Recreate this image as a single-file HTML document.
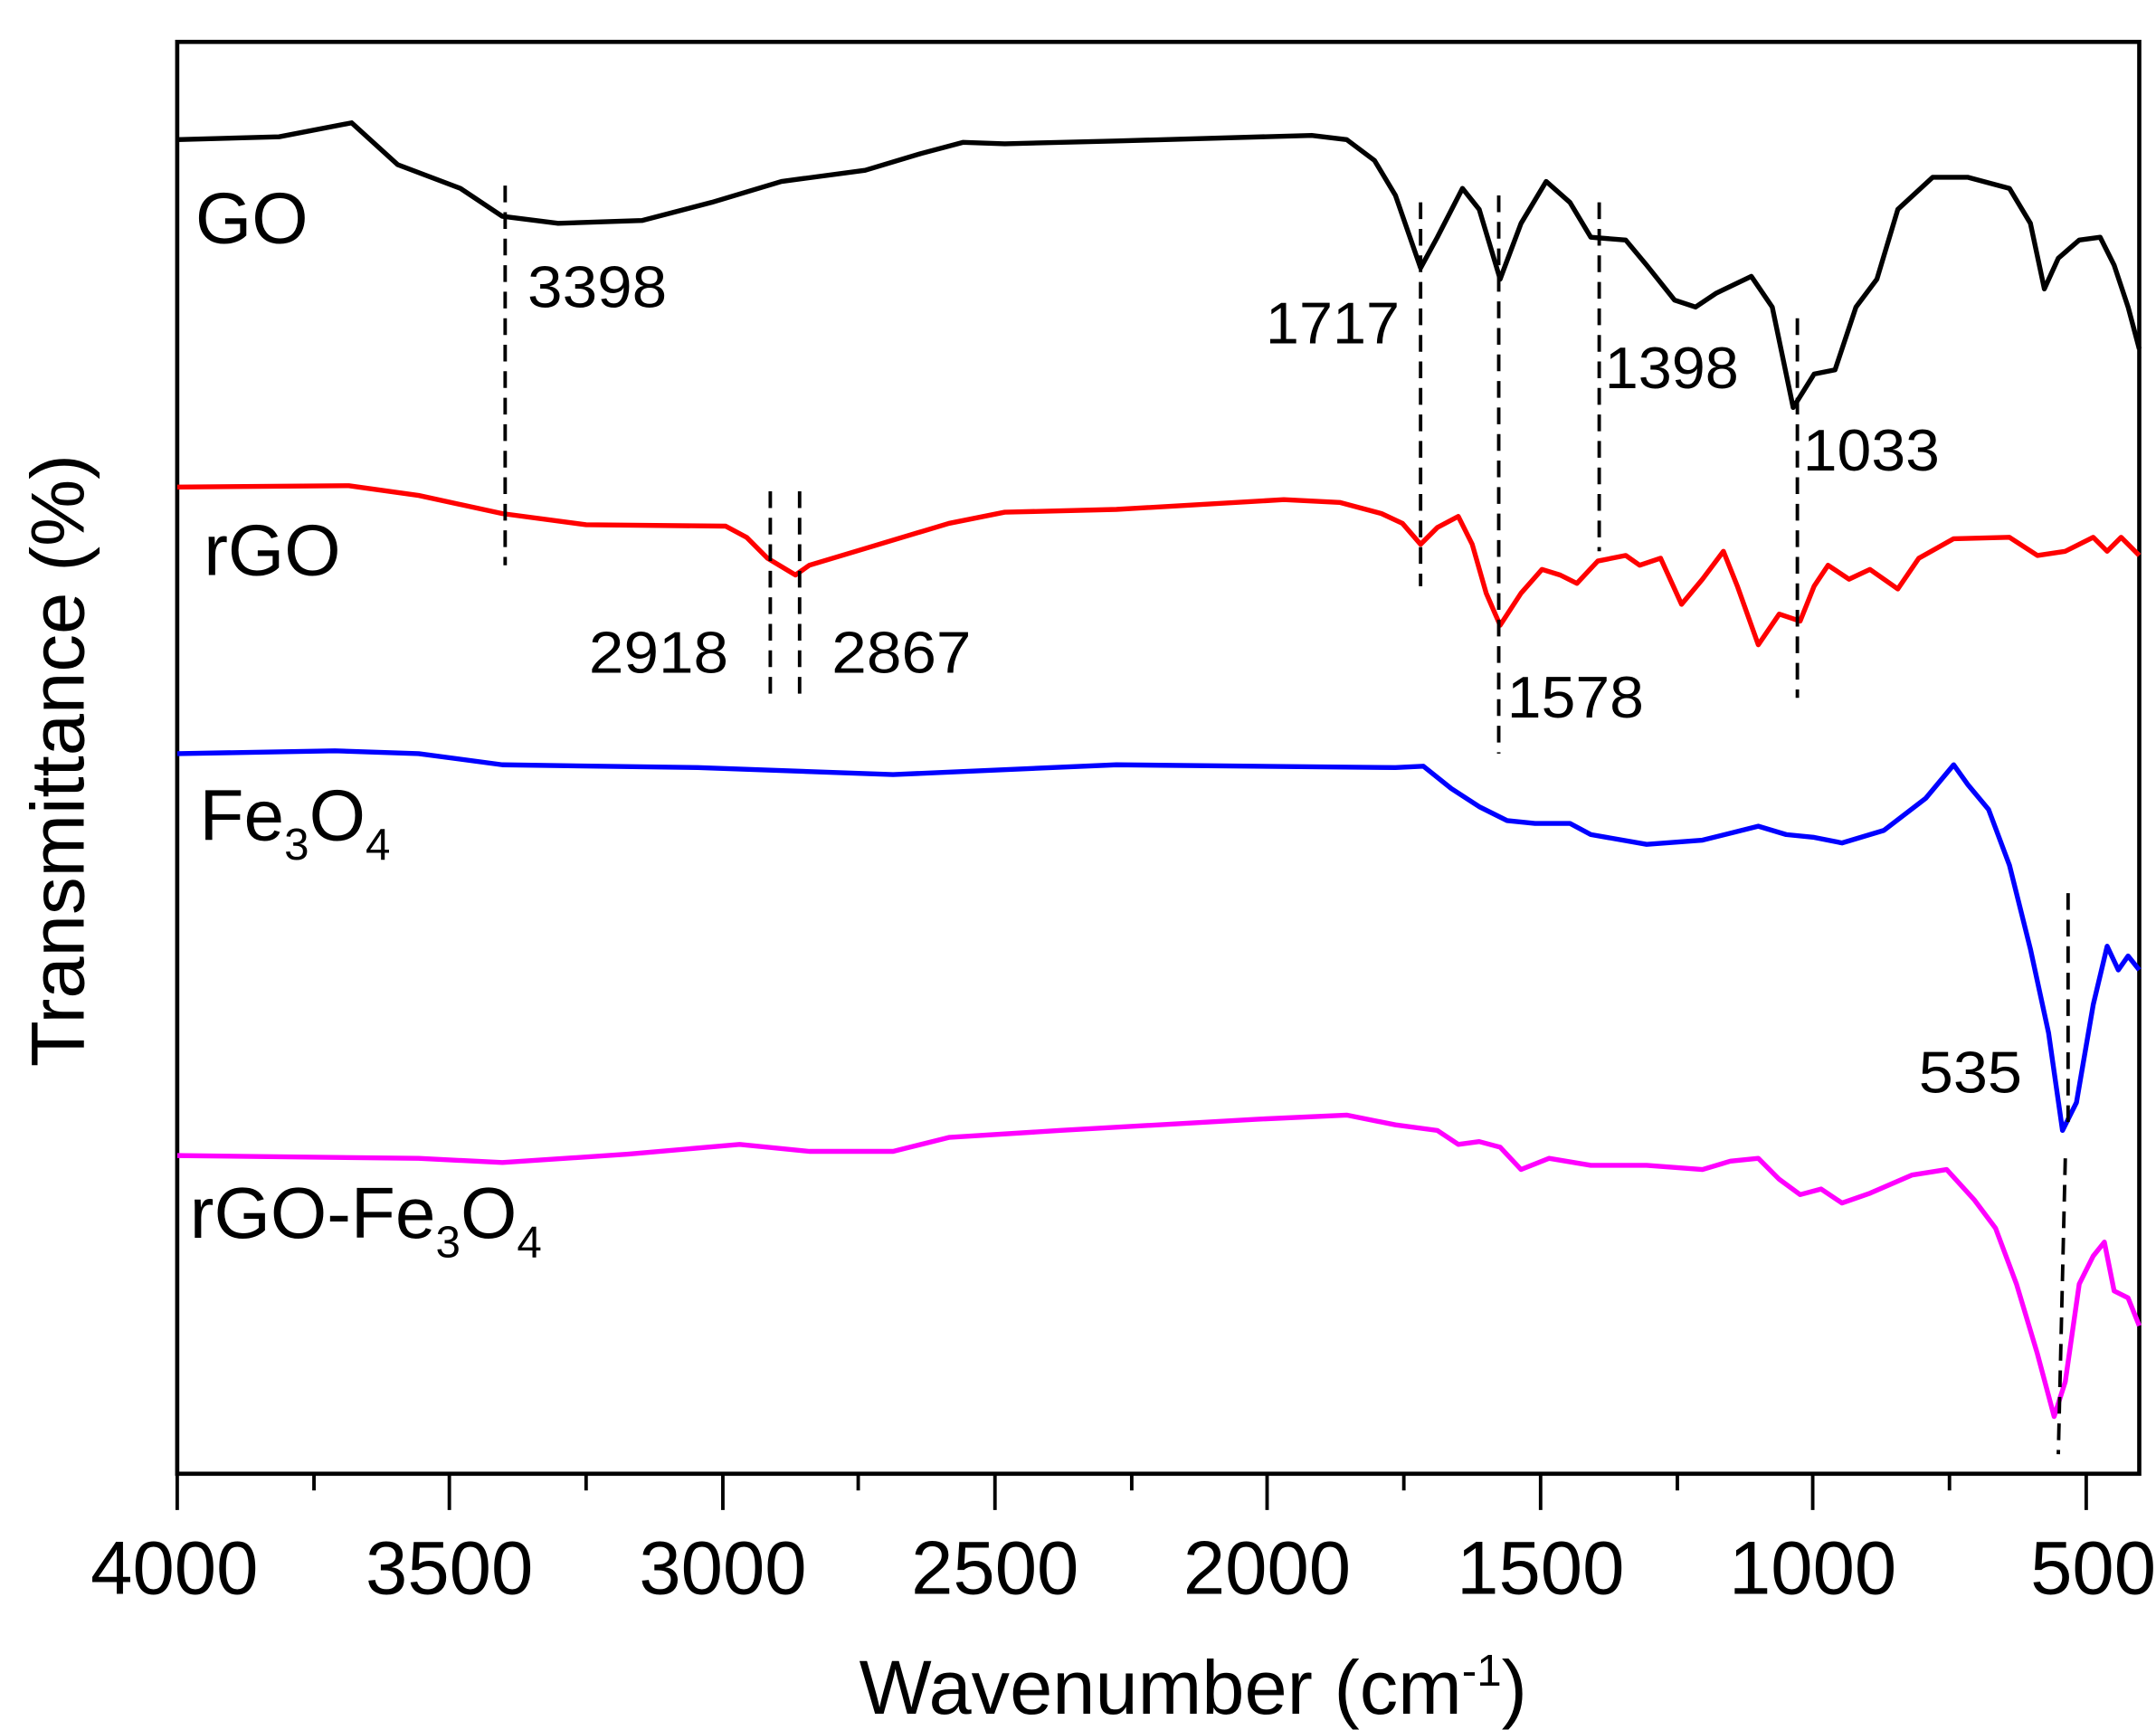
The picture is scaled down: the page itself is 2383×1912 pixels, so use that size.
<!DOCTYPE html>
<html><head><style>html,body{margin:0;padding:0;background:#fff}svg{display:block}</style></head><body>
<svg width="2383" height="1912" viewBox="0 0 1545 1239.6" xmlns="http://www.w3.org/2000/svg" font-family="Liberation Sans, Arial, sans-serif">
<rect x="127" y="30" width="1406" height="1026" fill="none" stroke="#000" stroke-width="3"/>
<g stroke="#000" stroke-width="2.5">
<path d="M127 1056V1082M322 1056V1082M518 1056V1082M713 1056V1082M908 1056V1082M1104 1056V1082M1299 1056V1082M1495 1056V1082"/>
<path d="M225 1056V1068M420 1056V1068M615 1056V1068M811 1056V1068M1006 1056V1068M1202 1056V1068M1397 1056V1068"/>
</g>
<g font-size="54" text-anchor="middle">
<text x="125" y="1142">4000</text><text x="322" y="1142">3500</text><text x="518" y="1142">3000</text><text x="713" y="1142">2500</text><text x="908" y="1142">2000</text><text x="1104" y="1142">1500</text><text x="1299" y="1142">1000</text><text x="1500" y="1142">500</text>
</g>
<text x="855" y="1228" font-size="55" text-anchor="middle">Wavenumber (cm<tspan dy="-20" font-size="32">-1</tspan><tspan dy="20">)</tspan></text>
<text transform="translate(60,545) rotate(-90)" font-size="54" text-anchor="middle">Transmittance (%)</text>
<g fill="none" stroke-width="3.5" stroke-linejoin="round">
<polyline stroke="#000" points="127,100 200,98 252,88 285,118 330,135 360,155 400,160 460,158 510,145 560,130 620,122 660,110 690,102 720,103 800,101 940,97 965,100 985,115 1000,140 1018,192 1030,170 1048,135 1060,150 1075,200 1090,160 1108,130 1125,145 1140,170 1165,172 1180,190 1200,215 1215,220 1230,210 1255,198 1270,220 1285,292 1300,268 1315,265 1330,220 1345,200 1360,150 1385,127 1410,127 1440,135 1455,160 1465,207 1475,185 1490,172 1505,170 1515,190 1525,220 1533,250"/>
<polyline stroke="#f00" points="127,349 250,348 300,355 360,368 420,376 520,377 535,385 550,400 570,412 580,405 620,393 680,375 720,367 800,365 920,358 960,360 990,368 1005,375 1018,390 1030,378 1045,370 1055,390 1065,425 1075,448 1090,425 1105,408 1118,412 1130,418 1145,402 1165,398 1175,405 1190,400 1205,433 1220,415 1235,395 1245,420 1260,462 1275,440 1290,445 1300,420 1310,405 1325,415 1340,408 1360,422 1375,400 1400,386 1440,385 1460,398 1480,395 1500,385 1510,395 1520,385 1533,398"/>
<polyline stroke="#00f" points="127,540 240,538 300,540 360,548 500,550 640,555 800,548 1000,550 1020,549 1040,565 1060,578 1080,588 1100,590 1125,590 1140,598 1180,605 1220,602 1260,592 1280,598 1300,600 1320,604 1350,595 1380,572 1400,548 1410,562 1425,580 1440,620 1455,680 1468,740 1478,810 1488,790 1500,720 1510,678 1518,695 1525,685 1533,695"/>
<polyline stroke="#f0f" points="127,828 300,830 360,833 450,827 530,820 580,825 640,825 680,815 760,810 900,802 965,799 1000,806 1030,810 1045,820 1060,818 1075,822 1090,838 1110,830 1140,835 1180,835 1220,838 1240,832 1260,830 1275,845 1290,856 1305,852 1320,862 1340,855 1370,842 1395,838 1415,860 1430,880 1445,920 1460,970 1472,1015 1480,990 1490,920 1500,900 1508,890 1515,925 1525,930 1533,950"/>
</g>
<g stroke="#000" stroke-width="2.5" stroke-dasharray="12,7" fill="none">
<path d="M362 133V405M1018 145V420M1074 140V540M1146 145V395M1288 228V500M552 352V500M573 352V497M1482 640V810M1480 830L1475 1042"/>
</g>
<g font-size="42">
<text x="378" y="220" textLength="100" lengthAdjust="spacingAndGlyphs">3398</text><text x="907" y="246" textLength="96" lengthAdjust="spacingAndGlyphs">1717</text><text x="1150" y="278" textLength="96" lengthAdjust="spacingAndGlyphs">1398</text><text x="1292" y="337" textLength="98" lengthAdjust="spacingAndGlyphs">1033</text>
<text x="422" y="482" textLength="100" lengthAdjust="spacingAndGlyphs">2918</text><text x="596" y="482" textLength="100" lengthAdjust="spacingAndGlyphs">2867</text><text x="1080" y="514" textLength="98" lengthAdjust="spacingAndGlyphs">1578</text><text x="1375" y="783" textLength="74" lengthAdjust="spacingAndGlyphs">535</text>
</g>
<g font-size="52">
<text x="140" y="174">GO</text>
<text x="146" y="412">rGO</text>
<text x="143" y="602">Fe<tspan font-size="32" dy="14">3</tspan><tspan dy="-14">O</tspan><tspan font-size="32" dy="14">4</tspan></text>
<text x="136" y="887">rGO-Fe<tspan font-size="32" dy="14">3</tspan><tspan dy="-14">O</tspan><tspan font-size="32" dy="14">4</tspan></text>
</g>
</svg>
</body></html>
